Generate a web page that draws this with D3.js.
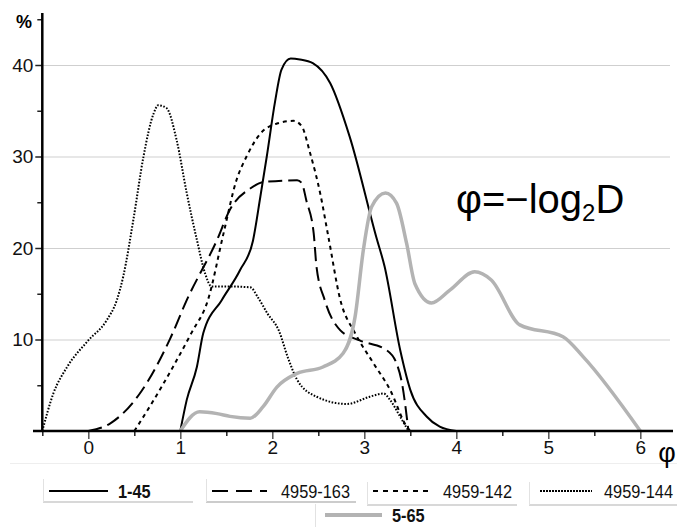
<!DOCTYPE html>
<html><head><meta charset="utf-8">
<script src="https://cdn.jsdelivr.net/npm/d3@7"></script>
<style>body{margin:0;background:#fff}svg{display:block;font-family:"Liberation Sans",Arial,sans-serif}</style>
</head><body>
<svg id="c" width="677" height="527"></svg>
<script>
const xTicks = [0,1,2,3,4,5,6];
const xMinor = [-0.5,0.5,1.5,2.5,3.5,4.5,5.5];
const yTicks = [10,20,30,40];
const yMinor = [5,15,25,35,45];

const s145 = [[1.0,0],[1.07,3.4],[1.18,7],[1.25,10.7],[1.45,14.3],[1.65,17.6],[1.79,20.8],[1.87,25.6],[1.94,30],[2.03,36],[2.1,39.5],[2.2,40.7],[2.3,40.6],[2.44,40.2],[2.63,38],[2.84,32.2],[3.13,21.2],[3.22,18],[3.39,8.85],[3.5,4.5],[3.68,1.56],[3.82,0.47],[4.0,0]];
const s163 = [[0,0],[0.24,0.84],[0.56,4.1],[0.89,10.1],[1.07,14.3],[1.4,20.9],[1.54,24.2],[1.76,26.5],[1.9,27.2],[2.27,27.4],[2.32,27.1],[2.37,25.2],[2.45,21.6],[2.48,18],[2.57,14.3],[2.74,11],[2.95,9.9],[3.24,8.85],[3.35,7.4],[3.41,5.2],[3.48,0]];
const s142 = [[0.5,0],[0.67,2.7],[0.92,7],[1.12,10.7],[1.3,14.3],[1.47,21.6],[1.61,27.4],[1.72,30],[1.87,32.5],[2.05,33.6],[2.23,33.9],[2.32,33.3],[2.41,30.4],[2.52,26],[2.61,21.2],[2.74,14.3],[2.9,10.7],[3.1,7.4],[3.28,4.5],[3.46,0.5],[3.5,0]];
const s144 = [[-0.5,0],[-0.38,4.1],[-0.23,7],[0,9.9],[0.2,12.1],[0.31,14.3],[0.38,16.9],[0.49,23.1],[0.6,30],[0.71,34.7],[0.76,35.6],[0.85,35.3],[0.96,31.8],[1.07,26],[1.18,20.9],[1.27,17.2],[1.34,15.8],[1.5,15.8],[1.76,15.7],[1.85,14.5],[1.95,12.8],[2.07,11],[2.17,8],[2.27,5.6],[2.48,3.75],[2.81,2.95],[3.06,3.75],[3.21,4.1],[3.28,3.4],[3.39,1.56],[3.48,0]];
const s565 = [[1.0,0],[1.21,2.1],[1.4,1.9],[1.54,1.6],[1.76,1.4],[1.9,2.66],[2.05,4.8],[2.27,6.3],[2.55,7.0],[2.77,8.5],[2.9,12.5],[2.99,19.8],[3.08,24.5],[3.23,26.0],[3.35,24.9],[3.46,20.5],[3.55,16.1],[3.73,14.0],[3.93,15.4],[4.2,17.4],[4.38,16.5],[4.69,11.6],[5.16,10.3],[5.38,8.1],[6.0,0]];

const seriesNames = ["1-45","4959-163","4959-142","4959-144","5-65"];
const seriesData = [s145,s163,s142,s144,s565];
const styles = [
  {stroke:"#000",w:2,dash:null,bold:true},
  {stroke:"#000",w:2,dash:"14,6",bold:false},
  {stroke:"#000",w:2,dash:"4,4",bold:false},
  {stroke:"#000",w:2,dash:"1.6,1.6",bold:false},
  {stroke:"#b3b3b3",w:3.5,dash:null,bold:true}
];
const legendDash = [null,"16,8","5,5","2,1",null];

const svg = d3.select("#c");
const x = d3.scaleLinear().domain([-0.5,6]).range([42.3,640.3]);
const y = d3.scaleLinear().domain([0,45]).range([431,19.25]);

// faint separators
svg.append("line").attr("x1",10).attr("x2",677).attr("y1",463.5).attr("y2",463.5).attr("stroke","#eee").attr("stroke-width",1);

// gridlines
svg.append("g").selectAll("line").data(yTicks).join("line")
  .attr("x1",x(-0.5)).attr("x2",670).attr("y1",d=>y(d)+0.5).attr("y2",d=>y(d)+0.5)
  .attr("stroke","#cfcfcf").attr("stroke-width",1);

// series
const line = d3.line().x(d=>x(d[0])).y(d=>y(d[1])).curve(d3.curveMonotoneX);
seriesData.forEach((s,i)=>{
  const st = styles[i];
  svg.append("path").datum(s).attr("d",line).attr("fill","none")
    .attr("stroke",st.stroke).attr("stroke-width",st.w)
    .attr("stroke-dasharray",st.dash).attr("stroke-linejoin","round");
});

// x axis
const gx = svg.append("g").attr("transform",`translate(0,${y(0)})`);
gx.call(d3.axisBottom(x).tickValues(xTicks).tickSize(8).tickSizeOuter(0).tickFormat(d3.format("d")));
gx.select(".domain").remove();
gx.selectAll(".tick line").attr("stroke","#555").attr("stroke-width",1.5);
gx.selectAll("text").attr("font-size",19).attr("fill","#111").attr("dy","0.25em").attr("y",18);
const gxm = svg.append("g").attr("transform",`translate(0,${y(0)})`);
gxm.call(d3.axisBottom(x).tickValues(xMinor).tickSize(5).tickFormat(""));
gxm.select(".domain").remove();
gxm.selectAll(".tick line").attr("stroke","#222").attr("stroke-width",1.5);
svg.append("line").attr("x1",33).attr("x2",673).attr("y1",y(0)).attr("y2",y(0)).attr("stroke","#000").attr("stroke-width",2.5);
svg.append("text").attr("x",667).attr("y",462).attr("text-anchor","middle").attr("font-size",27).text("φ");

// y axis
const gy = svg.append("g").attr("transform",`translate(${x(-0.5)},0)`);
gy.call(d3.axisLeft(y).tickValues(yTicks).tickSize(7).tickSizeOuter(0));
gy.select(".domain").remove();
gy.selectAll(".tick line").attr("stroke","#222").attr("stroke-width",1.5);
gy.selectAll("text").attr("font-size",19).attr("fill","#111").attr("x",-9);
const gym = svg.append("g").attr("transform",`translate(${x(-0.5)},0)`);
gym.call(d3.axisLeft(y).tickValues(yMinor).tickSize(5).tickFormat(""));
gym.select(".domain").remove();
gym.selectAll(".tick line").attr("stroke","#222").attr("stroke-width",1.5);
svg.append("line").attr("x1",x(-0.5)).attr("x2",x(-0.5)).attr("y1",13).attr("y2",y(0)+1).attr("stroke","#000").attr("stroke-width",2.5);
svg.append("text").attr("x",32).attr("y",28).attr("text-anchor","end").attr("font-size",18).attr("font-weight","bold").text("%");

// formula
const ft = svg.append("text").attr("x",456).attr("y",213).attr("font-size",40).attr("fill","#000");
ft.append("tspan").text("φ=−log");
ft.append("tspan").attr("font-size",24).attr("dy",8).text("2");
ft.append("tspan").attr("dy",-8).text("D");

// legend
const legPos = [
  {bx:43,by:502,bw:150,lx1:49,lx2:108,tx:118,ly:491},
  {bx:206,by:502,bw:150,lx1:212,lx2:267,tx:281,ly:491},
  {bx:367,by:505,bw:150,lx1:373,lx2:432,tx:443,ly:491},
  {bx:529,by:505,bw:148,lx1:540,lx2:592,tx:604,ly:491},
  {bx:315,by:527,bw:0,lx1:325,lx2:382,tx:392,ly:515}
];
const lg = svg.append("g");
seriesNames.forEach((nm,i)=>{
  const p = legPos[i], st = styles[i];
  if(p.bw>0) lg.append("line").attr("x1",p.bx).attr("x2",p.bx+p.bw).attr("y1",p.by).attr("y2",p.by).attr("stroke",i==1?"#999":"#d8d8d8").attr("stroke-width",i==1?1:2);
  lg.append("line").attr("x1",p.bx+0.5).attr("x2",p.bx+0.5).attr("y1",p.by-23).attr("y2",p.by).attr("stroke","#e2e2e2").attr("stroke-width",1);
  lg.append("line").attr("x1",p.lx1).attr("x2",p.lx2).attr("y1",p.ly).attr("y2",p.ly)
    .attr("stroke",st.stroke).attr("stroke-width",i==4?4:2.2).attr("stroke-dasharray",legendDash[i]);
  lg.append("text").attr("transform",`translate(${p.tx},${p.ly+7}) scale(0.86,1)`)
    .attr("font-size",19).attr("font-weight",st.bold?"bold":"normal").attr("fill","#111").text(nm);
});
</script>
</body></html>
